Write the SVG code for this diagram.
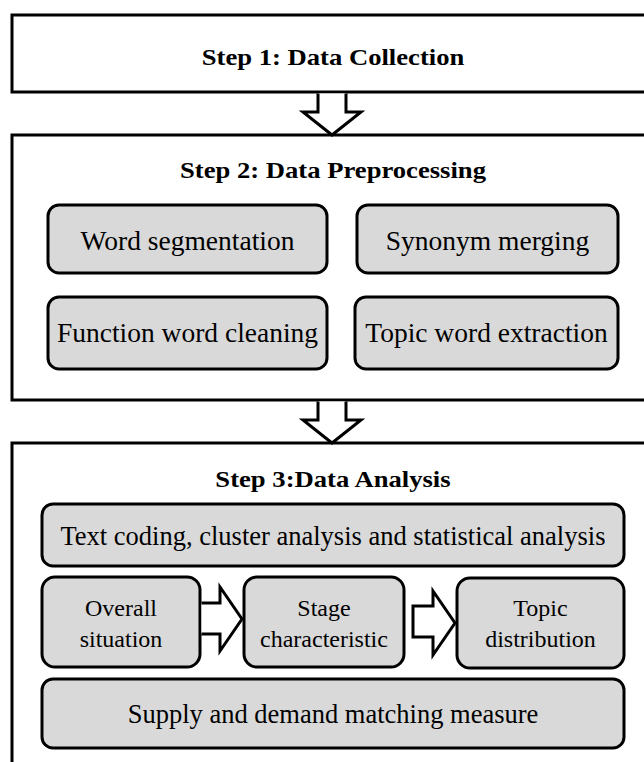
<svg xmlns="http://www.w3.org/2000/svg" width="644" height="762" viewBox="0 0 644 762">
<style>
.frame{fill:#fff;stroke:#000;stroke-width:3}
.box{fill:#d9d9d9;stroke:#000;stroke-width:3}
.arrow{fill:#fff;stroke:#000;stroke-width:3;stroke-linejoin:miter}
.title{font-family:"Liberation Serif","Times New Roman",serif;font-weight:bold;font-size:24px;fill:#000;text-anchor:middle}
.lbl{font-family:"Liberation Serif","Times New Roman",serif;font-size:27.5px;fill:#000;text-anchor:middle}
.lbl3{font-family:"Liberation Serif","Times New Roman",serif;font-size:26.5px;fill:#000;text-anchor:middle}
.sm{font-family:"Liberation Serif","Times New Roman",serif;font-size:24px;fill:#000;text-anchor:middle}
</style>
<rect width="644" height="762" fill="#fff"/>
<g id="step1">
<rect class="frame" x="12" y="15" width="660" height="77"/>
<text class="title" transform="translate(333,65) scale(1.11,1)">Step 1: Data Collection</text>
</g>
<g id="step2">
<rect class="frame" x="12" y="135" width="660" height="265"/>
<text class="title" transform="translate(333,178) scale(1.11,1)">Step 2: Data Preprocessing</text>
</g>
<g id="word-seg">
<rect class="box" x="48" y="205" width="279" height="68" rx="11"/>
<text class="lbl" x="187.5" y="250">Word segmentation</text>
</g>
<g id="synonym">
<rect class="box" x="357" y="205" width="261" height="68" rx="11"/>
<text class="lbl" x="487.5" y="250">Synonym merging</text>
</g>
<g id="function-word">
<rect class="box" x="48" y="297" width="279" height="72" rx="11"/>
<text class="lbl" x="187.5" y="342">Function word cleaning</text>
</g>
<g id="topic-word">
<rect class="box" x="355" y="297" width="263" height="72" rx="11"/>
<text class="lbl" x="486.5" y="342">Topic word extraction</text>
</g>
<g id="step3">
<rect class="frame" x="12" y="443" width="660" height="340"/>
<text class="title" transform="translate(333,487) scale(1.11,1)">Step 3:Data Analysis</text>
</g>
<g id="text-coding">
<rect class="box" x="42" y="504" width="582" height="62" rx="11"/>
<text class="lbl3" x="333" y="545">Text coding, cluster analysis and statistical analysis</text>
</g>
<g id="overall">
<rect class="box" x="42" y="577" width="158" height="90" rx="13"/>
<text class="sm" x="121" y="616">Overall</text>
<text class="sm" x="121" y="647">situation</text>
</g>
<g id="stage">
<rect class="box" x="244" y="577" width="160" height="90" rx="13"/>
<text class="sm" x="324" y="616">Stage</text>
<text class="sm" x="324" y="647">characteristic</text>
</g>
<g id="topic-dist">
<rect class="box" x="457" y="578" width="167" height="90" rx="13"/>
<text class="sm" x="540.5" y="616">Topic</text>
<text class="sm" x="540.5" y="647">distribution</text>
</g>
<g id="supply">
<rect class="box" x="42" y="679" width="582" height="69" rx="11"/>
<text class="lbl3" x="333" y="723">Supply and demand matching measure</text>
</g>
<g id="connectors">
<path class="arrow" d="M318,93.5 V112 H303 L332,135 L361,112 H346 V93.5"/>
<path class="arrow" d="M318,401.5 V420 H303 L332,443 L361,420 H346 V401.5"/>
<path class="arrow" d="M201.5,603 H220 V587 L242,619 L220,651 V634 H201.5"/>
<path class="arrow" d="M413,606 H433 V591 L455,623 L433,655 V637 H413 Z"/>
</g>
</svg>
